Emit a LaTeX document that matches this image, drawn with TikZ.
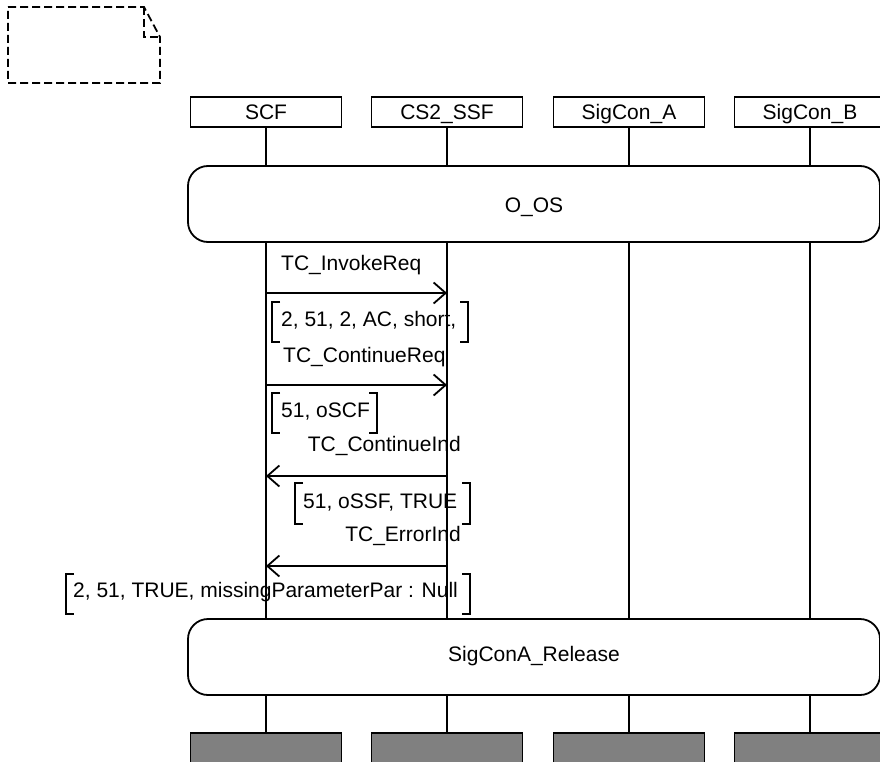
\documentclass[tikz,border=0pt]{standalone}
\usepackage{fontspec}
\setmainfont{Liberation Sans}
\usetikzlibrary{arrows.meta}
\definecolor{endgray}{RGB}{128,128,128}
\newcommand\mybrk[4]{% left x, right x, top y, bottom y
  \draw[brk] (#1+8,#3) -- (#1,#3) -- (#1,#4) -- (#1+8,#4);
  \draw[brk] (#2-8,#3) -- (#2,#3) -- (#2,#4) -- (#2-8,#4);}
\begin{document}
\begin{tikzpicture}[x=1pt,y=-1pt,
  every node/.style={font=\fontsize{21}{25}\selectfont},
  ln/.style={line width=1.8pt},
  hdr/.style={draw,line width=1.8pt,minimum width=151pt,minimum height=30pt,inner sep=0pt,fill=white},
  endbox/.style={draw,line width=1.8pt,minimum width=151pt,minimum height=36pt,inner sep=0pt,fill=endgray},
  refbox/.style={draw,line width=1.8pt,rounded corners=20pt,inner sep=0pt,fill=white},
  brk/.style={line width=1.8pt},
  msg/.style={line width=1.8pt,-{Straight Barb[length=12pt,width=21pt,line width=1.8pt]}},
  lbl/.style={inner sep=0pt},
  note/.style={line width=1.8pt,dash pattern=on 8pt off 4pt}]
\useasboundingbox (0,0) rectangle (880,762);
% note symbol
\draw[note] (8,7) -- (144,7) -- (160,37) -- (160,83) -- (8,83) -- cycle;
\draw[note] (144,7) -- (144,37) -- (160,37);
% headers
\node[hdr] (scf) at (266,112) {};
\node[hdr] (ssf) at (447,112) {};
\node[hdr] (sa) at (629,112) {};
\node[hdr] (sb) at (810,112) {};
\node[lbl,anchor=base] at (266,120) {SCF};
\node[lbl,anchor=base] at (447,120) {CS2\_SSF};
\node[lbl,anchor=base] at (629,120) {SigCon\_A};
\node[lbl,anchor=base] at (810,120) {SigCon\_B};
% end boxes
\node[endbox] (e1) at (266,751) {};
\node[endbox] (e2) at (447,751) {};
\node[endbox] (e3) at (629,751) {};
\node[endbox] (e4) at (810,751) {};
% lifelines
\draw[ln] (scf.south) -- (e1.north);
\draw[ln] (ssf.south) -- (e2.north);
\draw[ln] (sa.south) -- (e3.north);
\draw[ln] (sb.south) -- (e4.north);
% reference boxes
\node[refbox,minimum width=692pt,minimum height=76pt] (oos) at (534,204) {};
\node[lbl,anchor=base] at (534,212) {O\_OS};
\node[refbox,minimum width=692pt,minimum height=76pt] (rel) at (534,657) {};
\node[lbl,anchor=base] at (534,661) {SigConA\_Release};
% message coordinates
\coordinate (m1a) at (266,293); \coordinate (m1b) at (447,293);
\coordinate (m2a) at (266,385); \coordinate (m2b) at (447,385);
\coordinate (m3a) at (447,476); \coordinate (m3b) at (266,476);
\coordinate (m4a) at (447,566); \coordinate (m4b) at (266,566);
% messages
\node[lbl,anchor=base west] (t1) at (281,270) {TC\_InvokeReq};
\draw[msg] (m1a) -- (m1b);
\mybrk{272}{468}{302}{342}
\node[lbl,anchor=base west] (p1) at (281,326) {2, 51, 2, AC, short,};
\node[lbl,anchor=base west] (t2) at (283,362) {TC\_ContinueReq};
\draw[msg] (m2a) -- (m2b);
\mybrk{272}{377}{393}{433}
\node[lbl,anchor=base west] (p2) at (281,417) {51, oSCF};
\node[lbl,anchor=base east] (t3) at (461,451) {TC\_ContinueInd};
\draw[msg] (m3a) -- (m3b);
\mybrk{295}{470}{483}{524}
\node[lbl,anchor=base west] (p3) at (303,508) {51, oSSF, TRUE};
\node[lbl,anchor=base east] (t4) at (461,541) {TC\_ErrorInd};
\draw[msg] (m4a) -- (m4b);
\mybrk{66}{470}{574}{614}
\node[lbl,anchor=base west] (p4) at (73,597) {2, 51, TRUE, missingParameterPar : Null};
\end{tikzpicture}
\end{document}
